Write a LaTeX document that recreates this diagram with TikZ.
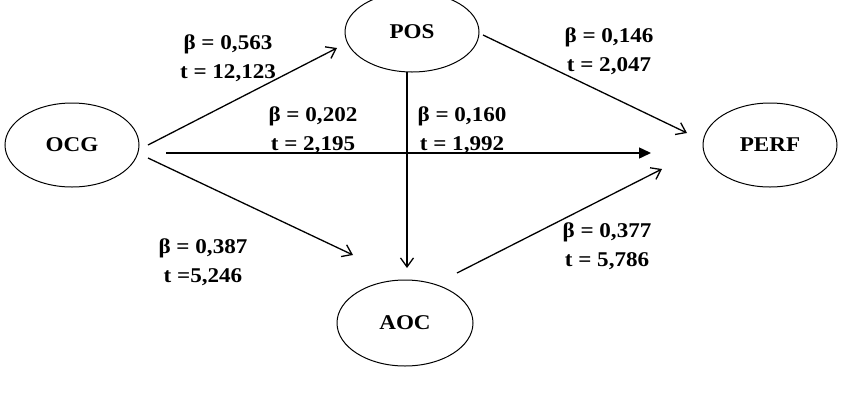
\documentclass[tikz,border=0pt]{standalone}
\usepackage{fontspec}
\setmainfont{Liberation Serif}[FakeStretch=1.1]
\usetikzlibrary{arrows.meta,shapes.geometric,calc}
\begin{document}
\begin{tikzpicture}[x=1pt,y=-1pt,
  var/.style={ellipse,draw,line width=1pt,inner sep=0pt,font=\fontsize{21}{24}\selectfont\bfseries},
  lbl/.style={align=center,inner sep=0pt,font=\fontsize{21}{29}\selectfont\bfseries},
  path/.style={line width=1.3pt,-{Straight Barb[length=9pt,width=13pt,line width=1.3pt]}},
  solidpath/.style={line width=1.5pt,-{Triangle[length=12pt,width=11pt]}}]
\useasboundingbox (0,0) rectangle (857,413);
\node[var,minimum width=134pt,minimum height=84pt] (OCG) at (72,145) {OCG};
\node[var,minimum width=134pt,minimum height=80pt] (POS) at (412,32) {POS};
\node[var,minimum width=134pt,minimum height=84pt] (PERF) at (770,145) {PERF};
\node[var,minimum width=136pt,minimum height=86pt] (AOC) at (405,323) {AOC};
% connector end points
\coordinate (a1) at ($(OCG.center)+(76,0)$);
\coordinate (a2) at ($(POS.center)+(-75,16)$);
\coordinate (b1) at ($(OCG.center)+(94,8)$);
\coordinate (b2) at ($(PERF.center)+(-119,8)$);
\coordinate (c1) at ($(OCG.center)+(76,13)$);
\coordinate (c2) at ($(AOC.center)+(-52,-68)$);
\coordinate (d1) at ($(POS.center)+(-5,40)$);
\coordinate (d2) at ($(AOC.center)+(2,-55)$);
\coordinate (e1) at ($(POS.center)+(71,3)$);
\coordinate (e2) at ($(PERF.center)+(-83,-12)$);
\coordinate (f1) at ($(AOC.center)+(52,-50)$);
\coordinate (f2) at ($(PERF.center)+(-108,24)$);
\draw[path] (a1) -- (a2);
\draw[solidpath] (b1) -- (b2);
\draw[path] (c1) -- (c2);
\draw[path] (d1) -- (d2);
\draw[path] (e1) -- (e2);
\draw[path] (f1) -- (f2);
\node[lbl] (l1) at (228,58) {β = 0,563\\t = 12,123};
\node[lbl] (l2) at (313,130) {β = 0,202\\t = 2,195};
\node[lbl] (l3) at (462,130) {β = 0,160\\t = 1,992};
\node[lbl] (l4) at (609,51) {β = 0,146\\t = 2,047};
\node[lbl] (l5) at (203,262) {β = 0,387\\t =5,246};
\node[lbl] (l6) at (607,246) {β = 0,377\\t = 5,786};
\end{tikzpicture}
\end{document}
